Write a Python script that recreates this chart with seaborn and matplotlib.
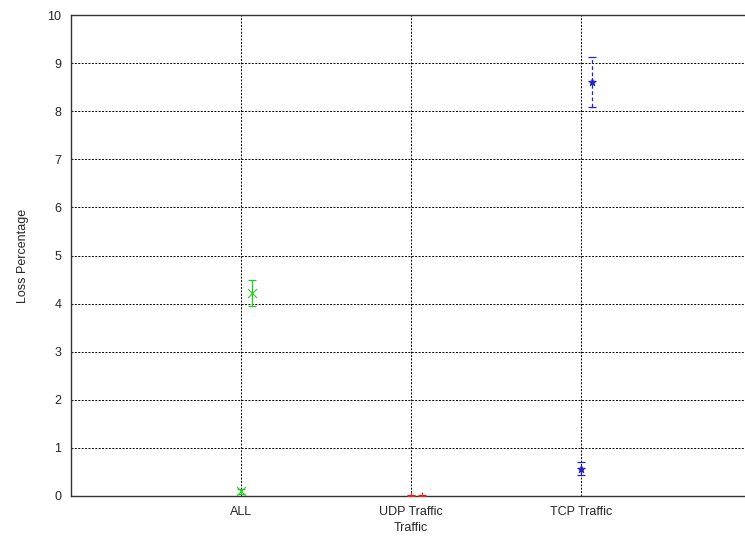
import matplotlib
matplotlib.use("Agg")
import matplotlib.pyplot as plt
import seaborn as sns
import pandas as pd

categories = ["ALL", "UDP Traffic", "TCP Traffic"]
colors = ["#22cc22", "#ee2222", "#2222cc"]

# lower measurement per category (drawn at the category position)
low_mean = [0.10, 0.01, 0.57]
low_err = [0.05, 0.02, 0.14]

# upper measurement per category (drawn just to the right)
high_mean = [4.22, 0.01, 8.61]
high_err = [0.27, 0.02, 0.52]

yticks = list(range(0, 11))

sns.set_theme(style="white")
plt.rcParams["font.family"] = ["Liberation Sans", "DejaVu Sans"]

fig = plt.figure(figsize=(7.45, 5.45), dpi=100)
ax = fig.add_axes([71 / 745, 49 / 545, 680 / 745, 481 / 545])

pos = [1, 2, 3]
offset = 0.065
df = pd.DataFrame({
    "x": pos + [p + offset for p in pos],
    "y": low_mean + high_mean,
    "err": low_err + high_err,
    "cat": categories + categories,
})

markers = ["x", "+", "*"]
sizes = [40, 40, 30]
bar_styles = ["-", "-", (0, (3, 2))]
for i, cat in enumerate(categories):
    sub = df[df["cat"] == cat]
    eb = ax.errorbar(sub["x"], sub["y"], yerr=sub["err"], fmt="none",
                     ecolor=colors[i], elinewidth=0.9, capsize=3, capthick=0.9)
    for coll in eb[2]:
        coll.set_linestyle(bar_styles[i])
    sns.scatterplot(data=sub, x="x", y="y", ax=ax, color=colors[i],
                    edgecolor=colors[i], marker=markers[i], s=sizes[i],
                    linewidth=0.8, legend=False, zorder=3)

ax.set_xlim(0, 4)
ax.set_ylim(0, 10)
ax.set_xticks(pos)
ax.set_xticklabels(categories, fontsize=9)
ax.set_yticks(yticks)
ax.set_yticklabels([str(t) for t in yticks], fontsize=9)
ax.tick_params(axis="both", direction="in", length=4, color="black", pad=7)
ax.grid(True, color="black", linestyle=(0, (2, 1.5)), linewidth=0.7)
ax.set_axisbelow(True)
for s in ax.spines.values():
    s.set_color("#333333")
    s.set_linewidth(1.0)
ax.set_xlabel("Traffic", fontsize=9, labelpad=3)
ax.set_ylabel("Loss Percentage", fontsize=9, labelpad=13)

fig.savefig("out.png", dpi=100)
